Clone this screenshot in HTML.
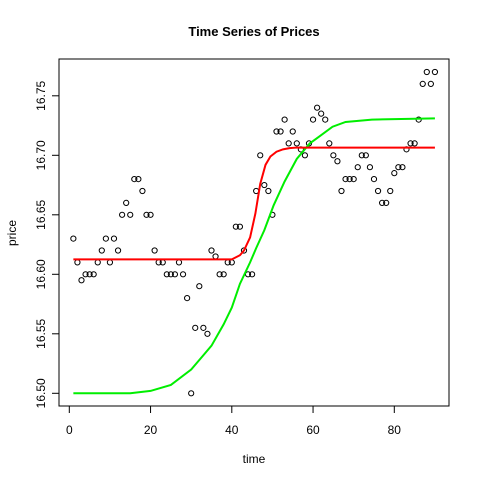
<!DOCTYPE html>
<html><head><meta charset="utf-8"><style>
body{margin:0;background:#fff}
svg{display:block;font-family:"Liberation Sans",Arial,sans-serif}
</style></head><body>
<svg id="chart" width="480" height="480">
<rect width="480" height="480" fill="#fff"/>
<text x="254" y="36" text-anchor="middle" font-size="13" font-weight="bold">Time Series of Prices</text>
<text x="254" y="463" text-anchor="middle" font-size="12">time</text>
<text transform="translate(16,233) rotate(-90)" text-anchor="middle" font-size="12">price</text>
<rect x="59" y="59" width="390" height="347" fill="none" stroke="#000"/>
<g id="g"></g>
</svg>
<script>
const prices=[16.63,16.61,16.595,16.60,16.60,16.60,16.61,16.62,16.63,16.61,16.63,16.62,16.65,16.66,16.65,16.68,16.68,16.67,16.65,16.65,16.62,16.61,16.61,16.60,16.60,16.60,16.61,16.60,16.58,16.50,16.555,16.59,16.555,16.55,16.62,16.615,16.60,16.60,16.61,16.61,16.64,16.64,16.62,16.60,16.60,16.67,16.70,16.675,16.67,16.65,16.72,16.72,16.73,16.71,16.72,16.71,16.705,16.70,16.71,16.73,16.74,16.735,16.73,16.71,16.70,16.695,16.67,16.68,16.68,16.68,16.69,16.70,16.70,16.69,16.68,16.67,16.66,16.66,16.67,16.685,16.69,16.69,16.705,16.71,16.71,16.73,16.76,16.77,16.76,16.77];
const greenT=[1,15,20,25,30,33,35,38,40,42,44.5,46,48,50.3,53,56,59.2,61.6,64.8,68,74.5,90];
const greenV=[16.50,16.50,16.502,16.507,16.52,16.532,16.54,16.558,16.572,16.592,16.61,16.622,16.637,16.658,16.678,16.697,16.71,16.716,16.724,16.728,16.73,16.731];
const redT=[1,40,42,43,44.5,45.8,47,48.3,49.5,51,52.6,54.2,56,90];
const redV=[16.6125,16.6125,16.616,16.62,16.631,16.651,16.676,16.692,16.699,16.703,16.705,16.706,16.7065,16.7065];
const xTicks=[0,20,40,60,80];
const yTicks=[16.50,16.55,16.60,16.65,16.70,16.75];
const X=t=>69.3+4.0625*t, Y=v=>393.3-(v-16.5)*1190;
const NS="http://www.w3.org/2000/svg", g=document.getElementById('g');
function mk(tag,a){const e=document.createElementNS(NS,tag);for(const k in a)e.setAttribute(k,a[k]);g.appendChild(e);return e;}
xTicks.forEach(t=>{
 const l=mk('line',{x1:X(t),x2:X(t),y1:406,y2:413,stroke:'#000'});
 
 
 const s=mk('text',{x:X(t),y:434,'text-anchor':'middle','font-size':12});s.textContent=t;
 
 
});
yTicks.forEach(v=>{
 const l=mk('line',{x1:52,x2:59,y1:Y(v),y2:Y(v),stroke:'#000'});
 
 
 const s=mk('text',{transform:`translate(45,${Y(v)}) rotate(-90)`,'text-anchor':'middle','font-size':12});s.textContent=v.toFixed(2);
 
 
});
prices.forEach((v,i)=>{
 const c=mk('circle',{cx:X(i+1),cy:Y(v),r:2.6,fill:'none',stroke:'#000','stroke-width':1});
 
 
});
const gl=mk('polyline',{points:greenT.map((t,i)=>X(t)+','+Y(greenV[i])).join(' '),fill:'none',stroke:'#00ee00','stroke-width':2});


const rl=mk('polyline',{points:redT.map((t,i)=>X(t)+','+Y(redV[i])).join(' '),fill:'none',stroke:'#ff0000','stroke-width':2});


</script>
</body></html>
